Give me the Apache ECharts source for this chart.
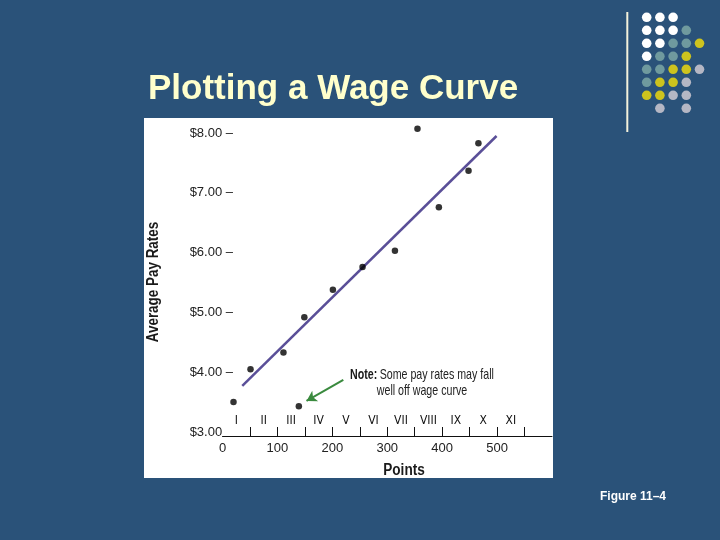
<!DOCTYPE html>
<html>
<head>
<meta charset="utf-8">
<script src="https://cdn.jsdelivr.net/npm/echarts@6/dist/echarts.min.js"></script>
<style>html,body{margin:0;padding:0;background:#2A5279;}#c{width:720px;height:540px;}</style>
</head>
<body>
<div id="c"></div>
<script>
// ---- data ----
var jobPoints = [20, 51, 111, 139, 149, 201, 255, 314, 355, 394, 448, 466];
var payRates  = [3.50, 4.05, 4.33, 3.43, 4.92, 5.38, 5.76, 6.03, 8.07, 6.76, 7.37, 7.83];
var curvePoints = [36, 499];
var curveRates  = [3.77, 7.95];
var payGrades = ['I','II','III','IV','V','VI','VII','VIII','IX','X','XI'];
var xTicks = [0, 100, 200, 300, 400, 500];
var yTicks = [3, 4, 5, 6, 7, 8];
var noteArrowFrom = [220, 3.87];
var noteArrowTo = [153, 3.52];

var NARROW = "'DejaVu Sans Condensed',sans-serif";
var SANS = "'Liberation Sans',Arial,sans-serif";

var chart = echarts.init(document.getElementById('c'));

// decorative dot pattern
var dotPattern = ['WWW..','WWWT.','WWTTY','WTTY.','TTYYG','TYYG.','YYGG.','.G.G.'];
var dotColors = {W:'#FFFFFF', T:'#6F9A9E', Y:'#CDC31E', G:'#B5B7C4'};
var deco = [];
for (var r = 0; r < dotPattern.length; r++) {
  for (var c = 0; c < 5; c++) {
    var ch = dotPattern[r][c];
    if (ch === '.') continue;
    deco.push({type:'circle', shape:{cx:646.7 + c*13.2, cy:17.3 + r*13, r:4.8}, style:{fill:dotColors[ch]}, silent:true});
  }
}

var scatterData = jobPoints.map(function(p, i){ return [p, payRates[i]]; });
var curveData = curvePoints.map(function(p, i){ return [p, curveRates[i]]; });

var option = {
  backgroundColor: '#2A5279',
  animation: false,
  grid: [
    {left: 222.5, right: 168, top: 133, bottom: 108},
    {left: 222.5, width: 302, top: 133, bottom: 108}
  ],
  xAxis: [
    {
      type: 'value', gridIndex: 0, min: 0, max: 600, interval: 100, offset: 4,
      axisLine: {show: true, lineStyle: {color: '#111', width: 1}},
      axisTick: {show: false},
      splitLine: {show: false},
      axisLabel: {
        margin: 6, color: '#222', fontFamily: SANS, fontSize: 13,
        formatter: function(v){ return xTicks.indexOf(v) >= 0 ? String(v) : ''; }
      }
    },
    {
      type: 'category', gridIndex: 1, data: payGrades, boundaryGap: true, offset: 4,
      axisLine: {show: false},
      axisTick: {show: true, inside: true, length: 9, lineStyle: {color: '#111', width: 1},
                 interval: function(idx){ return idx > 0; }},
      axisLabel: {inside: true, margin: 9, color: '#111', fontFamily: NARROW, fontSize: 12, interval: 0}
    }
  ],
  yAxis: [
    {
      type: 'value', gridIndex: 0, min: 3, max: 8, interval: 1,
      axisLine: {show: false}, axisTick: {show: false}, splitLine: {show: false},
      axisLabel: {
        margin: -10.5, color: '#222', fontFamily: SANS, fontSize: 13,
        formatter: function(v){
          if (yTicks.indexOf(v) < 0) return '';
          var s = '$' + v.toFixed(2);
          return v === yTicks[0] ? '{t|' + s + '}{h| \u2013}' : '{t|' + s + '}{t| \u2013}';
        },
        rich: {t: {color: '#222', fontFamily: SANS, fontSize: 13}, h: {color: 'rgba(0,0,0,0)', fontFamily: SANS, fontSize: 13}}
      }
    },
    {type: 'value', gridIndex: 1, min: 3, max: 8, show: false}
  ],
  graphic: [
    {type:'rect', z: -1, shape:{x:144, y:118, width:409, height:360}, style:{fill:'#FFFFFF'}, silent:true},
    {type:'text', x:148, y:89, style:{text:'Plotting a Wage Curve', font:'bold 35px ' + SANS, fill:'#FFFFCC', verticalAlign:'middle', align:'left'}},
    {type:'rect', shape:{x:626.3, y:12, width:2, height:120}, style:{fill:'#F4F2DC'}, silent:true},
    {type:'text', x:154, y:282, rotation: Math.PI/2, scaleX: 0.84,
     style:{text:'Average Pay Rates', font:'bold 16px ' + SANS, fill:'#1a1a1a', verticalAlign:'middle', align:'center'}},
    {type:'text', x:404, y:471, scaleX: 0.85,
     style:{text:'Points', font:'bold 16px ' + SANS, fill:'#1a1a1a', verticalAlign:'middle', align:'center'}},
    {type:'text', x:422, y:383, scaleX: 0.71, style:{
      text:'{b|Note:} {n|Some pay rates may fall}\n{n|well off wage curve}',
      align:'center', verticalAlign:'middle', lineHeight:16,
      rich:{b:{fontFamily:SANS, fontWeight:'bold', fontSize:15, fill:'#1a1a1a', lineHeight:16}, n:{fontFamily:SANS, fontSize:15, fill:'#222', lineHeight:16}}
    }},
    {type:'text', x:600, y:497, style:{text:'Figure 11\u20134', font:'bold 12px ' + SANS, fill:'#FFFFFF', verticalAlign:'middle', align:'left'}}
  ].concat(deco),
  series: [
    {
      type: 'line', xAxisIndex: 0, yAxisIndex: 0, data: curveData, symbol: 'none',
      lineStyle: {color: '#5A4F98', width: 2.5}, clip: false, z: 3,
      markLine: {
        silent: true, symbol: ['none', 'arrow'], symbolSize: [9, 10],
        lineStyle: {color: '#3A8A3E', width: 2, type: 'solid'}, label: {show: false},
        data: [[{coord: noteArrowFrom}, {coord: noteArrowTo}]]
      }
    },
    {
      type: 'scatter', xAxisIndex: 0, yAxisIndex: 0, data: scatterData, symbolSize: 6.5,
      itemStyle: {color: '#000'}, clip: false, z: 4
    }
  ]
};
chart.setOption(option);
</script>
</body>
</html>
